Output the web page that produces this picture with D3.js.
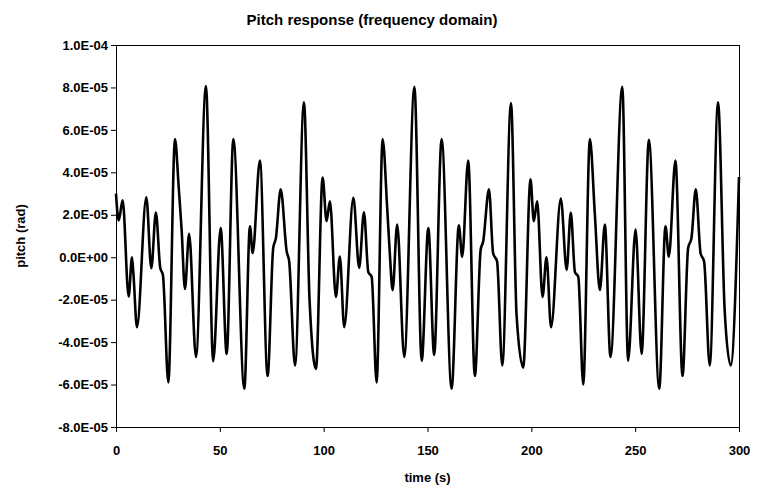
<!DOCTYPE html>
<html>
<head>
<meta charset="utf-8">
<script src="https://cdn.jsdelivr.net/npm/d3@7"></script>
<style>
  body { margin: 0; background: #fff; }
  svg text { font-family: Arial, "Liberation Sans", sans-serif; font-weight: bold; fill: #000; }
</style>
</head>
<body>
<script>
const title = "Pitch response (frequency domain)";

// time (s) of the points
const times = [
  0, 1.3, 3.2, 6.1, 7.7, 8.4, 10.1, 14.6, 17.0, 19.2, 21.3, 22.6, 25.2, 28.4, 30.2, 31.6, 33.2, 35.2, 38.5,
  43.3, 46.8, 50.4, 53.3, 56.5, 61.8, 64.5, 65.8, 69.3, 73.0, 75.7, 77.0, 79.3, 82.2, 83.4, 86.2, 90.5,
  93.2, 96.3, 99.5, 101.4, 103.0, 105.9, 107.8, 109.9, 114.3, 117.1, 119.4, 121.5, 123.1, 125.5, 128.4,
  130.6, 131.9, 133.2, 135.4, 138.8, 143.7, 147.2, 150.4, 153.2, 156.8, 161.6, 165.1, 166.7, 169.6,
  172.8, 175.6, 176.8, 179.6, 181.6, 183.5, 186.0, 190.2, 192.9, 196.1, 199.6, 201.2, 202.8, 205.4,
  207.3, 209.5, 214.2, 217.0, 219.0, 221.0, 222.6, 225.0, 228.2, 230.6, 233.0, 235.4, 238.1, 243.8,
  246.6, 250.2, 253.1, 256.6, 261.6, 264.6, 266.2, 269.4, 272.8, 275.5, 277.1, 279.2, 281.5, 283.2,
  285.9, 289.9, 293.1, 296.0, 300
];

// pitch (rad) at those times
const pitch = [
  3.00e-5, 1.73e-5, 2.68e-5, -1.85e-5, 0.00e-5, -0.80e-5, -3.30e-5, 2.82e-5, -0.52e-5, 2.10e-5, -0.50e-5, -0.85e-5, -5.90e-5, 5.57e-5, 3.30e-5, 1.30e-5, -1.50e-5, 1.10e-5, -4.70e-5,
  8.06e-5, -4.90e-5, 1.38e-5, -4.56e-5, 5.57e-5, -6.20e-5, 1.46e-5, 0.20e-5, 4.55e-5, -5.60e-5, 0.43e-5, 0.90e-5, 3.20e-5, 0.27e-5, -0.20e-5, -5.10e-5, 7.30e-5,
  -2.00e-5, -5.27e-5, 3.75e-5, 1.70e-5, 2.64e-5, -1.87e-5, 0.03e-5, -3.30e-5, 2.80e-5, -0.50e-5, 2.12e-5, -0.70e-5, -0.92e-5, -5.90e-5, 5.57e-5,
  2.30e-5, 0.10e-5, -1.55e-5, 1.54e-5, -4.70e-5, 8.03e-5, -4.88e-5, 1.38e-5, -4.60e-5, 5.57e-5, -6.20e-5, 1.50e-5, 0.03e-5, 4.55e-5,
  -5.60e-5, 0.35e-5, 0.74e-5, 3.20e-5, 0.19e-5, -0.20e-5, -5.10e-5, 7.27e-5, -2.74e-5, -5.20e-5, 3.67e-5, 1.70e-5, 2.64e-5, -1.87e-5,
  0.00e-5, -3.30e-5, 2.77e-5, -0.60e-5, 2.10e-5, -0.70e-5, -0.92e-5, -6.00e-5, 5.57e-5, 2.00e-5, -1.55e-5, 1.54e-5, -4.70e-5, 8.03e-5,
  -4.88e-5, 1.30e-5, -4.56e-5, 5.53e-5, -6.20e-5, 1.46e-5, 0.03e-5, 4.55e-5, -5.60e-5, 0.43e-5, 0.90e-5, 3.20e-5, 0.19e-5, -0.20e-5,
  -5.10e-5, 7.30e-5, -2.50e-5, -5.10e-5, 3.78e-5
];

const xTicks = [0, 50, 100, 150, 200, 250, 300];
const yTicks = [-8e-5, -6e-5, -4e-5, -2e-5, 0, 2e-5, 4e-5, 6e-5, 8e-5, 1e-4];

//size and margin of svg
const canvWidth = 759;
const canvHeight = 494;
const margin = {top: 45, right: 20, bottom: 67, left: 116};
const width = canvWidth - margin.left - margin.right;
const height = canvHeight - margin.top - margin.bottom;

const svg = d3.select("body").append("svg")
  .attr("width", canvWidth)
  .attr("height", canvHeight);

const g = svg.append("g")
  .attr("transform", `translate(${margin.left},${margin.top})`);

//scales
const xScale = d3.scaleLinear().domain([0, 300]).range([0, width]);
const yScale = d3.scaleLinear().domain([-8e-5, 1e-4]).range([height, 0]);

// Excel style scientific label, e.g. 8.0E-05
let sciFormat = (v) => {
  if (v === 0) return "0.0E+00";
  let exp = Math.floor(Math.log10(Math.abs(v)) + 1e-9);
  let mant = v / Math.pow(10, exp);
  let e = Math.abs(exp).toString().padStart(2, "0");
  return mant.toFixed(1) + "E" + (exp < 0 ? "-" : "+") + e;
}

//axes
const xAxis = d3.axisBottom(xScale).tickValues(xTicks).tickSize(5).tickSizeOuter(0).tickPadding(14);
g.append("g")
  .attr("class", "axis")
  .attr("transform", `translate(0,${height})`)
  .call(xAxis);

const yAxis = d3.axisLeft(yScale).tickValues(yTicks).tickFormat(sciFormat).tickSize(5).tickSizeOuter(0).tickPadding(3);
g.append("g")
  .attr("class", "axis")
  .call(yAxis);

g.selectAll(".axis text").style("font-size", "13px");
g.selectAll(".axis .domain").remove();
g.selectAll(".axis line").attr("stroke", "#000");

//plot frame
g.append("rect")
  .attr("x", 0.5)
  .attr("y", 0.5)
  .attr("width", width)
  .attr("height", height)
  .attr("fill", "none")
  .attr("stroke", "#000")
  .attr("stroke-width", 1);

//line
const data = times.map((t, i) => ({t: t, v: pitch[i]}));
const line = d3.line()
  .x(d => xScale(d.t))
  .y(d => yScale(d.v))
  .curve(d3.curveMonotoneX);

g.append("path")
  .datum(data)
  .attr("fill", "none")
  .attr("stroke", "#000")
  .attr("stroke-width", 2.6)
  .attr("stroke-linejoin", "round")
  .attr("d", line);

//title and labels
svg.append("text")
  .attr("x", 372)
  .attr("y", 25)
  .attr("text-anchor", "middle")
  .style("font-size", "15px")
  .text(title);

svg.append("text")
  .attr("x", margin.left + width / 2)
  .attr("y", 482)
  .attr("text-anchor", "middle")
  .style("font-size", "13px")
  .text("time (s)");

svg.append("text")
  .attr("transform", `translate(25,${margin.top + height / 2}) rotate(-90)`)
  .attr("text-anchor", "middle")
  .style("font-size", "13px")
  .text("pitch (rad)");
</script>
</body>
</html>
